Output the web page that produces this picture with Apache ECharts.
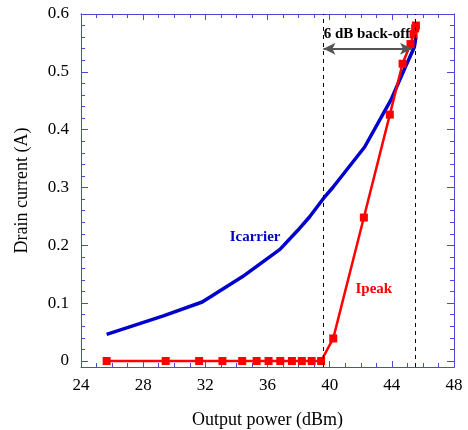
<!DOCTYPE html>
<html>
<head>
<meta charset="utf-8">
<script src="https://cdn.jsdelivr.net/npm/echarts@6/dist/echarts.min.js"></script>
<style>
  html, body { margin: 0; padding: 0; background: #fff; }
  #chart { width: 468px; height: 430px; }
</style>
</head>
<body>
<div id="chart"></div>
<script>
// Icarrier (blue line, no markers)
var carrierX = [25.65, 29.3, 31.8, 34.4, 36.8, 37.95, 38.7, 39.6, 40.2, 42.25, 43.95, 44.9, 45.45, 45.55];
var carrierY = [0.046, 0.078, 0.102, 0.146, 0.193, 0.226, 0.249, 0.281, 0.30, 0.370, 0.452, 0.51, 0.543, 0.56];
// Ipeak (red line with square markers)
var peakX = [25.65, 29.45, 31.6, 33.1, 34.37, 35.3, 36.07, 36.82, 37.57, 38.21, 38.84, 39.45, 40.23, 42.2, 43.87, 44.69, 45.2, 45.4, 45.5, 45.55];
var peakY = [0, 0, 0, 0, 0, 0, 0, 0, 0, 0, 0, 0, 0.039, 0.248, 0.426, 0.514, 0.548, 0.565, 0.575, 0.58];
// reference markers
var backoffX = [39.6, 45.5];
var arrowX = [39.6, 45.3];
var arrowY = 0.54;
// tick values
var yMajor = [0, 0.1, 0.2, 0.3, 0.4, 0.5, 0.6];
var yMinor = [0.02, 0.04, 0.06, 0.08, 0.12, 0.14, 0.16, 0.18, 0.22, 0.24, 0.26, 0.28,
              0.32, 0.34, 0.36, 0.38, 0.42, 0.44, 0.46, 0.48, 0.52, 0.54, 0.56, 0.58];

var axisColor = "#4a4ad8";
var serif = "Liberation Serif";

function pairs(xs, ys) {
  var out = [];
  for (var i = 0; i < xs.length; i++) out.push([xs[i], ys[i]]);
  return out;
}

function yAxisDef(pos, values, len, showLabel, showName) {
  return {
    type: "value",
    position: pos,
    min: -0.0104,
    max: 0.6,
    name: showName ? "Drain current (A)" : "",
    nameLocation: "middle",
    nameGap: 50,
    nameTextStyle: { fontFamily: serif, fontSize: 18, color: "#000" },
    axisLine: { show: true, lineStyle: { color: axisColor, width: 1 } },
    axisTick: { show: true, inside: true, length: len, customValues: values, lineStyle: { color: axisColor } },
    axisLabel: { show: showLabel, customValues: yMajor, margin: 12, fontFamily: serif, fontSize: 17, color: "#000" },
    splitLine: { show: false }
  };
}

function xAxisDef(pos, showLabel) {
  return {
    type: "value",
    position: pos,
    min: 24,
    max: 48,
    interval: 4,
    name: showLabel ? "Output power (dBm)" : "",
    nameLocation: "middle",
    nameGap: 44,
    nameTextStyle: { fontFamily: serif, fontSize: 18, color: "#000" },
    axisLine: { show: true, onZero: false, lineStyle: { color: axisColor, width: 1 } },
    axisTick: { show: true, inside: true, length: 6, lineStyle: { color: axisColor } },
    minorTick: { show: true, splitNumber: 4, length: 4, lineStyle: { color: axisColor } },
    axisLabel: { show: showLabel, margin: 10, fontFamily: serif, fontSize: 17, color: "#000" },
    splitLine: { show: false }
  };
}

var chart = echarts.init(document.getElementById("chart"));
chart.setOption({
  animation: false,
  grid: { left: 81, right: 14, top: 14, bottom: 63, outerBoundsMode: "none" },
  xAxis: [xAxisDef("bottom", true), xAxisDef("top", false)],
  yAxis: [
    yAxisDef("left", yMajor, 7, true, true),
    yAxisDef("left", yMinor, 4, false, false),
    yAxisDef("right", yMajor, 7, false, false),
    yAxisDef("right", yMinor, 4, false, false)
  ],
  series: [
    {
      name: "Icarrier",
      type: "line",
      data: pairs(carrierX, carrierY),
      showSymbol: false,
      lineStyle: { color: "#0000cc", width: 3.5 },
      itemStyle: { color: "#0000cc" },
      z: 2,
      markLine: {
        silent: true,
        symbol: ["none", "none"],
        label: { show: false },
        lineStyle: { color: "#000", type: [4, 4], width: 1 },
        data: [{ xAxis: backoffX[0] }, { xAxis: backoffX[1] }]
      },
      markPoint: {
        symbolSize: 0,
        data: [{
          coord: [35.2, 0.214],
          label: { show: true, formatter: "Icarrier", color: "#0000cc", fontFamily: serif, fontWeight: "bold", fontSize: 15 }
        }]
      }
    },
    {
      name: "Ipeak",
      type: "line",
      data: pairs(peakX, peakY),
      symbol: "rect",
      symbolSize: 8,
      showSymbol: true,
      lineStyle: { color: "#ff0000", width: 2.5 },
      itemStyle: { color: "#ff0000" },
      z: 3,
      markLine: {
        silent: true,
        symbol: ["arrow", "arrow"],
        symbolSize: [9, 12],
        label: { show: false },
        lineStyle: { color: "#555", type: "solid", width: 2 },
        data: [[{ coord: [arrowX[0], arrowY] }, { coord: [arrowX[1], arrowY] }]]
      },
      markPoint: {
        symbolSize: 0,
        data: [
          {
            coord: [42.84, 0.124],
            label: { show: true, formatter: "Ipeak", color: "#ff0000", fontFamily: serif, fontWeight: "bold", fontSize: 15 }
          },
          {
            coord: [42.4, 0.566],
            label: { show: true, formatter: "6 dB back-off", color: "#000", fontFamily: serif, fontWeight: "bold", fontSize: 15 }
          }
        ]
      }
    }
  ]
});
</script>
</body>
</html>
